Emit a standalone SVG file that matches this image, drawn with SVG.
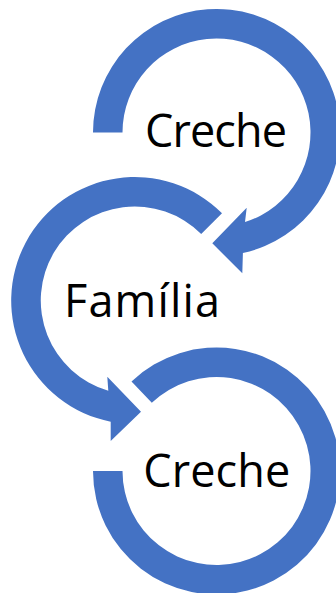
<svg xmlns="http://www.w3.org/2000/svg" width="336" height="593" viewBox="0 0 336 593">
  <style>
    .arc { fill: #4472C4; stroke: none; }
    .lbl { font-family: "Open Sans", "Noto Sans", "DejaVu Sans", sans-serif; font-size: 45px; fill: #000000; text-anchor: middle; }
  </style>
  <rect x="0" y="0" width="336" height="593" fill="#FFFFFF"/>
  <g id="connectors">
    <path id="arc-top" class="arc" d="M 93 132.5 A 123.5 123.5 0 1 1 242.9 253.1 L 242.3 273.3 L 212.3 243.3 L 246.7 207.7 L 245 222.1 A 94 94 0 1 0 122.5 132.5 Z"/>
    <path id="arc-middle" class="arc" d="M 222 213.2 A 123.5 123.5 0 1 0 110.7 421.7 L 110.7 441 L 141 411.7 L 107.3 376.7 L 108.3 390.7 A 94 94 0 1 1 201.2 234 Z"/>
    <path id="arc-bottom" class="arc" d="M 93 471 A 123.5 123.5 0 1 0 131.5 381.4 L 151.8 402.8 A 94 94 0 1 1 122.5 471 Z"/>
  </g>
  <g id="node-creche-1">
    <text class="lbl" x="216" y="146.7" textLength="142" lengthAdjust="spacing">Creche</text>
  </g>
  <g id="node-familia">
    <text class="lbl" x="142" y="316.7" textLength="156" lengthAdjust="spacing">Família</text>
  </g>
  <g id="node-creche-2">
    <text class="lbl" x="216.7" y="486.7" textLength="147" lengthAdjust="spacing">Creche</text>
  </g>
</svg>
